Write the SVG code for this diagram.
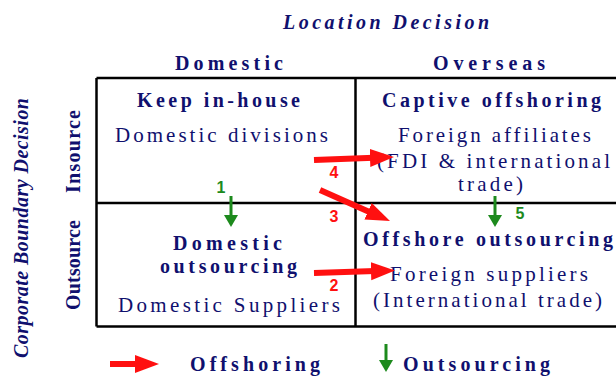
<svg xmlns="http://www.w3.org/2000/svg" width="616" height="378" viewBox="0 0 616 378">
<style>
  .b { font-family: 'Liberation Serif', 'Times New Roman', Times, serif; font-weight: bold; font-size: 20px; fill: #10106e; }
  .bi { font-family: 'Liberation Serif', 'Times New Roman', Times, serif; font-weight: bold; font-style: italic; font-size: 20px; fill: #10106e; }
  .r { font-family: 'Liberation Serif', 'Times New Roman', Times, serif; font-size: 21px; fill: #10106e; }
  .num { font-family: 'Liberation Sans', Arial, sans-serif; font-weight: bold; font-size: 16px; text-anchor: middle; }
  .red { fill: #ff1010; }
  .grn { fill: #1d8a1d; }
  .grid { stroke: #000; stroke-width: 2.5; fill: none; }
  .rs { stroke: #ff1010; stroke-width: 6; fill: none; }
  .gs { stroke: #1d8a1d; stroke-width: 3; fill: none; }
</style>
<defs>
  <marker id="rh" markerUnits="userSpaceOnUse" markerWidth="26" markerHeight="20" refX="4" refY="10" orient="auto">
    <polygon points="0,1 24,10 0,19" fill="#ff1010"/>
  </marker>
  <marker id="gh" markerUnits="userSpaceOnUse" markerWidth="14" markerHeight="16" refX="2" refY="7" orient="auto">
    <polygon points="0,0 12,7 0,14" fill="#1d8a1d"/>
  </marker>
</defs>
<rect width="616" height="378" fill="#fff"/>

<g id="axis-labels">
  <text class="bi" x="283" y="29" textLength="206" lengthAdjust="spacing">Location Decision</text>
  <text class="b" x="175" y="70" textLength="108" lengthAdjust="spacing">Domestic</text>
  <text class="b" x="433" y="70" textLength="112" lengthAdjust="spacing">Overseas</text>
  <text class="bi" transform="translate(28,358) rotate(-90)" x="0" y="0" textLength="260" lengthAdjust="spacing">Corporate Boundary Decision</text>
  <text class="b" transform="translate(80,193) rotate(-90)" x="0" y="0" textLength="83" lengthAdjust="spacing">Insource</text>
  <text class="b" transform="translate(80,310) rotate(-90)" x="0" y="0" textLength="90" lengthAdjust="spacing">Outsource</text>
</g>

<g id="grid">
  <line class="grid" x1="96.5" y1="78" x2="618" y2="78"/>
  <line class="grid" x1="96.5" y1="203" x2="618" y2="203"/>
  <line class="grid" x1="96.5" y1="326.5" x2="618" y2="326.5"/>
  <line class="grid" x1="96.5" y1="78" x2="96.5" y2="326.5"/>
  <line class="grid" x1="355.5" y1="78" x2="355.5" y2="326.5"/>
</g>

<g id="keep-in-house">
  <text class="b" x="137" y="107" textLength="163" lengthAdjust="spacing">Keep in-house</text>
  <text class="r" x="115" y="142" textLength="213" lengthAdjust="spacing">Domestic divisions</text>
</g>

<g id="captive-offshoring">
  <text class="b" x="382" y="107" textLength="219" lengthAdjust="spacing">Captive offshoring</text>
  <text class="r" x="398" y="142" textLength="193" lengthAdjust="spacing">Foreign affiliates</text>
  <text class="r" x="377" y="168" textLength="233" lengthAdjust="spacing">(FDI &amp; international</text>
  <text class="r" x="458" y="191" textLength="65" lengthAdjust="spacing">trade)</text>
</g>

<g id="domestic-outsourcing">
  <text class="b" x="173" y="250" textLength="109" lengthAdjust="spacing">Domestic</text>
  <text class="b" x="160" y="273" textLength="137" lengthAdjust="spacing">outsourcing</text>
  <text class="r" x="118" y="312" textLength="222" lengthAdjust="spacing">Domestic Suppliers</text>
</g>

<g id="offshore-outsourcing">
  <text class="b" x="363" y="246" textLength="250" lengthAdjust="spacing">Offshore outsourcing</text>
  <text class="r" x="390" y="281" textLength="198" lengthAdjust="spacing">Foreign suppliers</text>
  <text class="r" x="373" y="307" textLength="229" lengthAdjust="spacing">(International trade)</text>
</g>

<g id="connectors">
  <line class="rs" x1="314" y1="160" x2="374" y2="157.75" marker-end="url(#rh)"/>
  <line class="rs" x1="320" y1="190" x2="371.7" y2="212.9" marker-end="url(#rh)"/>
  <line class="rs" x1="314" y1="273" x2="375" y2="271.1" marker-end="url(#rh)"/>
  <line class="gs" x1="231" y1="196" x2="231" y2="217" marker-end="url(#gh)"/>
  <line class="gs" x1="495" y1="196" x2="495" y2="217" marker-end="url(#gh)"/>
  <text class="num red" x="334" y="178">4</text>
  <text class="num red" x="334" y="222">3</text>
  <text class="num red" x="334" y="291">2</text>
  <text class="num grn" x="221" y="193">1</text>
  <text class="num grn" x="520" y="219">5</text>
</g>

<g id="legend">
  <line class="rs" x1="110" y1="364" x2="139" y2="364" marker-end="url(#rh)"/>
  <text class="b" x="190" y="371" textLength="130" lengthAdjust="spacing">Offshoring</text>
  <line class="gs" x1="386" y1="344" x2="386" y2="362" marker-end="url(#gh)"/>
  <text class="b" x="403" y="371" textLength="147" lengthAdjust="spacing">Outsourcing</text>
</g>
</svg>
